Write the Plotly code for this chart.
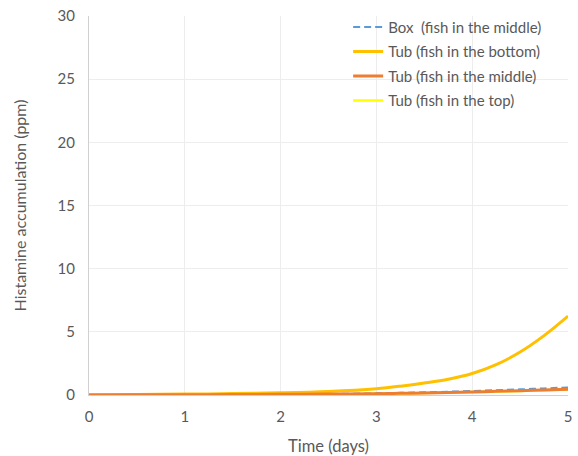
import plotly.graph_objects as go

time_days = [0, 0.5, 1, 1.5, 2, 2.5, 3, 3.25, 3.5, 3.75, 4, 4.25, 4.5, 4.75, 5]
box_middle = [0.0, 0.01, 0.02, 0.03, 0.05, 0.08, 0.13, 0.17, 0.21, 0.26, 0.32, 0.38, 0.45, 0.52, 0.6]
tub_bottom = [0.02, 0.04, 0.07, 0.11, 0.17, 0.28, 0.5, 0.7, 0.95, 1.25, 1.7, 2.4, 3.4, 4.7, 6.25]
tub_middle = [0.0, 0.01, 0.02, 0.03, 0.05, 0.07, 0.1, 0.13, 0.16, 0.2, 0.24, 0.29, 0.34, 0.4, 0.46]
tub_top = [0.0, 0.01, 0.02, 0.03, 0.04, 0.06, 0.09, 0.12, 0.15, 0.19, 0.23, 0.27, 0.32, 0.38, 0.43]

names = ["Box  (fish in the middle)", "Tub (fish in the bottom)",
         "Tub (fish in the middle)", "Tub (fish in the top)"]

font_family = "Lato, 'Noto Sans', sans-serif"
txt = "#595959"

fig = go.Figure()
fig.add_trace(go.Scatter(x=time_days, y=tub_top, name=names[3], mode="lines",
                         line=dict(color="#FFFF00", width=2.5, shape="spline"),
                         legendgroup="d", legendrank=4))
fig.add_trace(go.Scatter(x=time_days, y=box_middle, name=names[0], mode="lines",
                         line=dict(color="#5B9BD5", width=2, dash="7px,4px", shape="spline"),
                         legendgroup="a", legendrank=1))
fig.add_trace(go.Scatter(x=time_days, y=tub_bottom, name=names[1], mode="lines",
                         line=dict(color="#FFC000", width=3, shape="spline"),
                         legendgroup="b", legendrank=2))
fig.add_trace(go.Scatter(x=time_days, y=tub_middle, name=names[2], mode="lines",
                         line=dict(color="#ED7D31", width=3, shape="spline"),
                         legendgroup="c", legendrank=3))

fig.update_layout(
    width=578, height=456,
    margin=dict(l=89, r=10, t=16, b=61, autoexpand=False),
    paper_bgcolor="white", plot_bgcolor="white",
    font=dict(family=font_family, size=15, color=txt),
    legend=dict(x=0.541, y=1.014, xanchor="left", yanchor="top",
                bgcolor="rgba(255,255,255,0)", tracegroupgap=2,
                font=dict(size=15, color=txt)),
    xaxis=dict(range=[0, 5], dtick=1, showgrid=True, gridcolor="#EDEDED",
               showline=True, linecolor="#D0D0D0", zeroline=False,
               ticks="", tickfont=dict(size=15, color=txt), ticklabelstandoff=8,
               automargin=False,
               title=dict(text="Time (days)", font=dict(size=16.5, color=txt), standoff=16)),
    yaxis=dict(range=[0, 30], dtick=5, showgrid=True, gridcolor="#EDEDED",
               showline=True, linecolor="#D0D0D0", zeroline=False,
               ticks="", tickfont=dict(size=15, color=txt), ticklabelstandoff=10,
               automargin=False,
               title=dict(text="Histamine accumulation (ppm)", font=dict(size=16, color=txt), standoff=26)),
)

fig.write_html("out.html", config={"displayModeBar": False},
               post_script="document.body.style.margin='0';document.body.style.overflow='hidden';")
